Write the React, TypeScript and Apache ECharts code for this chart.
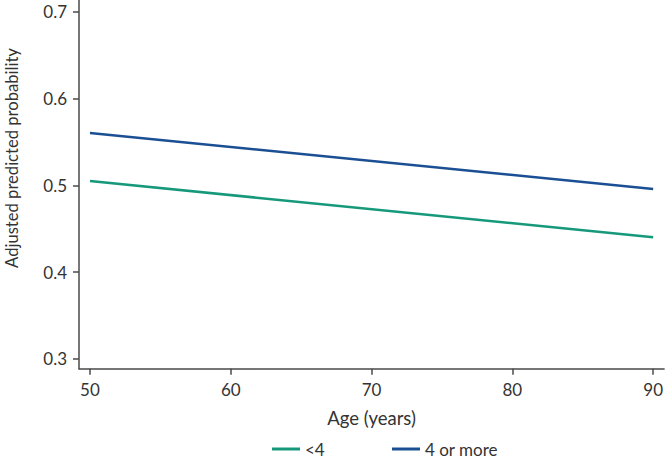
import React, { useEffect, useRef } from "react";
import * as echarts from "echarts";

const ageRange = [50, 90];
const lessThan4 = [0.505, 0.44];
const fourOrMore = [0.5605, 0.4957];
const xTicks = [50, 60, 70, 80, 90];
const yTicks = [0.3, 0.4, 0.5, 0.6, 0.7];
const seriesNames = ["<4", "4 or more"];
const yTitle = "Adjusted predicted probability";
const xTitle = "Age (years)";

const FONT = "Lato";
const TEXT = "#333333";
const AXIS = "#4a4a4a";
const GREEN = "#16987b";
const BLUE = "#1b4f93";

export default function App() {
  const ref = useRef<HTMLDivElement>(null);
  useEffect(() => {
    if (!ref.current) return;
    const chart = echarts.init(ref.current, null, { renderer: "svg" });
    const legendCommon = {
      top: 439,
      padding: 0,
      icon: "rect",
      itemWidth: 28,
      itemHeight: 3,
      textStyle: { fontFamily: FONT, fontSize: 17, color: TEXT, lineHeight: 20 },
    };
    chart.setOption({
      animation: false,
      textStyle: { fontFamily: FONT, color: TEXT },
      grid: { left: 79, right: 0, top: 0, bottom: 89.3, containLabel: false },
      legend: [
        { ...legendCommon, data: [seriesNames[0]], left: 272 },
        { ...legendCommon, data: [seriesNames[1]], left: 392 },
      ],
      graphic: [
        {
          type: "text",
          x: 12,
          y: 158,
          rotation: Math.PI / 2,
          style: {
            text: yTitle,
            fontFamily: FONT,
            fontSize: 16.6,
            fill: TEXT,
            align: "center",
            verticalAlign: "middle",
          },
        },
      ],
      xAxis: {
        type: "value",
        min: 49.221,
        max: 90.779,
        name: xTitle,
        nameLocation: "middle",
        nameGap: 40,
        nameTextStyle: { fontFamily: FONT, fontSize: 18.5, color: TEXT },
        axisLine: { show: true, lineStyle: { color: AXIS, width: 1.5 } },
        axisTick: { show: true, length: 6, customValues: xTicks, lineStyle: { color: AXIS, width: 1.5 } },
        axisLabel: { customValues: xTicks, fontFamily: FONT, fontSize: 17, color: TEXT, margin: 12 },
        splitLine: { show: false },
      },
      yAxis: {
        type: "value",
        min: 0.2885,
        max: 0.7138,
        axisLine: { show: true, lineStyle: { color: AXIS, width: 1.5 } },
        axisTick: { show: true, length: 6, customValues: yTicks, lineStyle: { color: AXIS, width: 1.5 } },
        axisLabel: {
          customValues: yTicks,
          fontFamily: FONT,
          fontSize: 17,
          color: TEXT,
          margin: 12,
          formatter: (v: number) => v.toFixed(1),
        },
        splitLine: { show: false },
      },
      series: [
        {
          name: seriesNames[0],
          type: "line",
          symbol: "none",
          data: ageRange.map((a, i) => [a, lessThan4[i]]),
          lineStyle: { color: GREEN, width: 2.5 },
          itemStyle: { color: GREEN },
        },
        {
          name: seriesNames[1],
          type: "line",
          symbol: "none",
          data: ageRange.map((a, i) => [a, fourOrMore[i]]),
          lineStyle: { color: BLUE, width: 2.5 },
          itemStyle: { color: BLUE },
        },
      ],
    });
    return () => chart.dispose();
  }, []);
  return (
    <div
      ref={ref}
      style={{ position: "fixed", left: 0, top: 0, width: 666, height: 458, background: "#fff" }}
    />
  );
}
